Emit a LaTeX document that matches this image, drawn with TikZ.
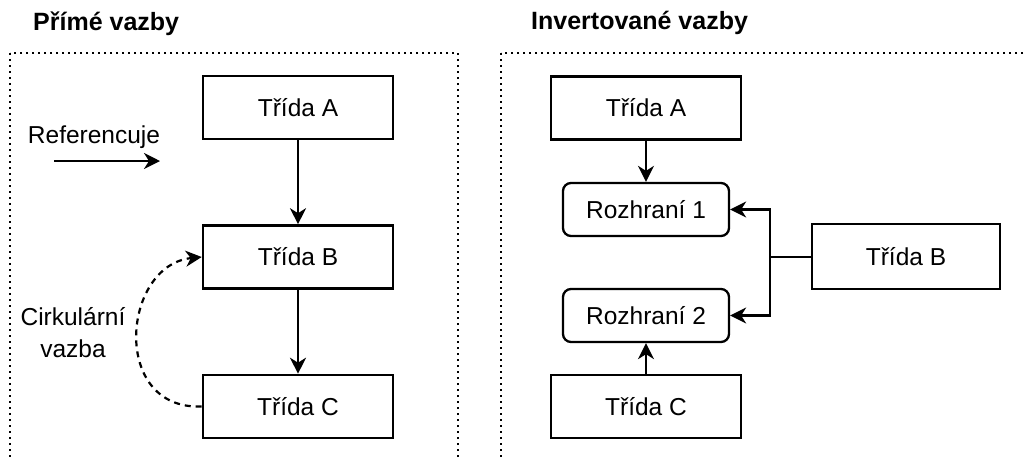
\documentclass[tikz,border=0pt]{standalone}
\usepackage{fontspec}
\setmainfont{Liberation Sans}
\usetikzlibrary{arrows.meta}
\begin{document}
\begin{tikzpicture}[x=1pt,y=-1pt,
  font=\fontsize{24.5}{32}\selectfont,
  cls/.style={draw,line width=2.6pt,minimum width=190pt,minimum height=63pt,inner sep=0pt},
  iface/.style={draw,line width=2.3pt,rounded corners=8pt,minimum width=166pt,minimum height=53pt,inner sep=0pt},
  conn/.style={line width=2.2pt,-{Stealth[length=16pt,width=16pt,inset=5pt]}},
  loopback/.style={conn,dash pattern=on 6pt off 5pt},
  frame/.style={line width=2pt,dash pattern=on 2pt off 4pt},
  head/.style={font=\fontsize{25}{30}\selectfont\bfseries,anchor=base west,inner sep=0pt}]

% page area
\useasboundingbox (0,0) rectangle (1027,459);
\clip (0,0) rectangle (1027,459);

% panel frames (open towards the bottom / right page edge)
\draw[frame] (10,53) rectangle (458,475);
\draw[frame] (501,53) rectangle (1045,475);

% panel titles
\node[head] (t1) at (33,30) {Přímé vazby};
\node[head] (t2) at (531,29) {Invertované vazby};

% ---- direct dependencies ----
\node[cls] (A) at (298,107.5) {Třída A};
\node[cls] (B) at (298,257) {Třída B};
\node[cls] (C) at (298,406.5) {Třída C};

\draw[conn] (A) -- (B);
\draw[conn] (B) -- (C);

\node[anchor=base,inner sep=0pt] (lref) at (94,143) {Referencuje};
\coordinate (rs) at (54,161);
\coordinate (re) at (160,161);
\draw[conn] (rs) -- (re);

\node[align=center,inner sep=0pt] (lcirc) at (73,333) {Cirkulární\\vazba};
\draw[loopback] (C.west) .. controls (110,410) and (122,265) .. (B.west);

% ---- inverted dependencies ----
\node[cls] (IA) at (646,108) {Třída A};
\node[iface] (R1) at (646,209.5) {Rozhraní 1};
\node[iface] (R2) at (646,315.5) {Rozhraní 2};
\node[cls] (IC) at (646,406.5) {Třída C};
\node[cls,minimum width=188pt,minimum height=65pt] (IB) at (906,256.5) {Třída B};

\draw[conn] (IA) -- (R1);
\draw[conn] (IC) -- (R2);

\coordinate (split) at ([xshift=-41pt]IB.west);
\draw[line width=2pt] (IB.west) -- (split);
\draw[conn] (split) |- (R1.east);
\draw[conn] (split) |- (R2.east);
\end{tikzpicture}
\end{document}
